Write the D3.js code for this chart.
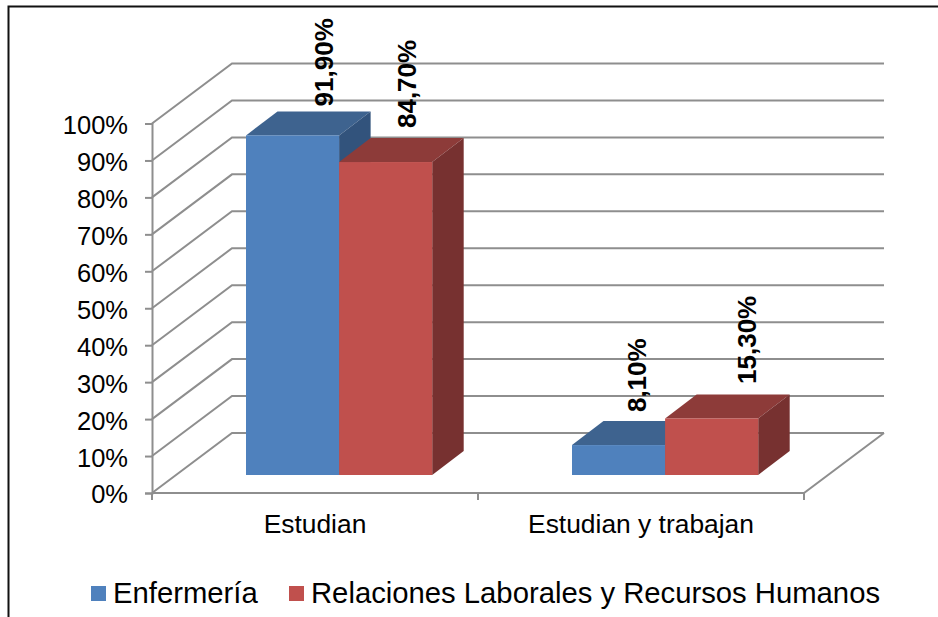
<!DOCTYPE html>
<html>
<head>
<meta charset="utf-8">
<script src="https://cdn.jsdelivr.net/npm/d3@7"></script>
<style>
html, body { margin: 0; padding: 0; background: #fff; }
svg { display: block; }
text { font-family: "Liberation Sans", Arial, sans-serif; fill: #000; }
</style>
</head>
<body>
<svg width="938" height="617"></svg>
<script>
var categories = ["Estudian", "Estudian y trabajan"];
var seriesNames = ["Enfermería", "Relaciones Laborales y Recursos Humanos"];
var enfermeria = [91.9, 8.1];
var relaciones = [84.7, 15.3];
var yTicks = [0, 10, 20, 30, 40, 50, 60, 70, 80, 90, 100];

var frontColors = ["#4f81bd", "#c0504d"],
    topColors = ["#3e638f", "#8d3b39"],
    sideColors = ["#32537c", "#773130"],
    gridColor = "#8e8e8e";

var svg = d3.select("svg");

// outer frame of the pasted picture: only left and top show
svg.append("path")
    .attr("d", "M8.5,617V6.5H938")
    .attr("fill", "none")
    .attr("stroke", "#111")
    .attr("stroke-width", 2);

var x0 = d3.scaleBand().domain(d3.range(categories.length)).range([152, 804]);
var y = d3.scaleLinear().domain([0, 100]).range([493, 123.5]);
// two bars inside a category band
var x1 = d3.scaleBand().domain([0, 1]).range([94, 280.2]);

// wall depth of the 3d box and depth of one bar
var wallX = 80, wallY = 60;
var barX = 31.5, barY = 24, barLift = 18;

var grid = svg.append("g").attr("fill", "none").attr("stroke", gridColor).attr("stroke-width", 2);

grid.selectAll("path.wall")
    .data(yTicks)
    .enter().append("path")
    .attr("class", "wall")
    .attr("d", function(d) {
        return d3.line()([
            [x0.range()[0], y(d)],
            [x0.range()[0] + wallX, y(d) - wallY],
            [x0.range()[1] + wallX, y(d) - wallY]
        ]);
    });

// floor
grid.append("path").attr("d", d3.line()([
    [x0.range()[0], y(0)],
    [x0.range()[1], y(0)],
    [x0.range()[1] + wallX, y(0) - wallY]
]));

// axes
var yAxis = d3.axisLeft(y).tickValues(yTicks).tickSize(7).tickPadding(17).tickFormat(function(d) { return d + "%"; });
var yG = svg.append("g").attr("transform", "translate(152,0)").call(yAxis);
yG.select(".domain").attr("stroke", gridColor).attr("stroke-width", 2);
yG.selectAll(".tick line").attr("stroke", gridColor).attr("stroke-width", 2);
yG.selectAll("text").attr("font-size", 25.5).attr("dy", "0.39em").style("font-family", '"Liberation Sans", Arial, sans-serif').style("fill", "#000");

svg.append("g")
    .selectAll("line")
    .data(x0.domain().concat(categories.length))
    .enter().append("line")
    .attr("x1", function(d) { return 152 + d * x0.step(); })
    .attr("x2", function(d) { return 152 + d * x0.step(); })
    .attr("y1", y(0))
    .attr("y2", y(0) + 7)
    .attr("stroke", gridColor)
    .attr("stroke-width", 2);

svg.append("g")
    .selectAll("text")
    .data(categories)
    .enter().append("text")
    .attr("x", function(d, i) { return x0(i) + x0.bandwidth() / 2; })
    .attr("y", 533)
    .attr("text-anchor", "middle")
    .attr("font-size", 26.4)
    .text(function(d) { return d; });

// bars, blue first so red sits on top of it
var series = [enfermeria, relaciones];
var bars = [];
series.forEach(function(values, s) {
    values.forEach(function(v, c) { bars.push({ s: s, c: c, v: v }); });
});
bars.sort(function(a, b) { return a.c - b.c || a.s - b.s; });

var bar = svg.append("g").selectAll("g").data(bars).enter().append("g");

function barBox(d) {
    var left = x0(d.c) + x1(d.s),
        right = left + x1.bandwidth(),
        base = y(0) - barLift,
        top = base - (y(0) - y(d.v));
    return { left: left, right: right, base: base, top: top };
}

bar.append("path")
    .attr("fill", function(d) { return topColors[d.s]; })
    .attr("d", function(d) {
        var b = barBox(d);
        return d3.line()([[b.left, b.top], [b.left + barX, b.top - barY], [b.right + barX, b.top - barY], [b.right, b.top]]) + "Z";
    });
bar.append("path")
    .attr("fill", function(d) { return sideColors[d.s]; })
    .attr("d", function(d) {
        var b = barBox(d);
        return d3.line()([[b.right, b.top], [b.right + barX, b.top - barY], [b.right + barX, b.base - barY], [b.right, b.base]]) + "Z";
    });
bar.append("rect")
    .attr("fill", function(d) { return frontColors[d.s]; })
    .attr("x", function(d) { return barBox(d).left; })
    .attr("y", function(d) { return barBox(d).top; })
    .attr("width", x1.bandwidth())
    .attr("height", function(d) { var b = barBox(d); return b.base - b.top; });

// rotated value labels, excel put them a bit off centre so each gets a nudge
var labelNudgeX = [[40, 30], [27, 44]];
var labelGap = [[29, 34], [33, 34.5]];

svg.append("g")
    .selectAll("text")
    .data(bars)
    .enter().append("text")
    .attr("transform", function(d) {
        var b = barBox(d);
        return "translate(" + (b.left + x1.bandwidth() / 2 + labelNudgeX[d.c][d.s]) + "," + (b.top - labelGap[d.c][d.s]) + ") rotate(-90)";
    })
    .attr("font-size", 26)
    .attr("font-weight", "bold")
    .text(function(d) { return d.v.toFixed(2).replace(".", ",") + "%"; });

// legend
var legendSwatchX = [91, 289], legendTextX = [113, 311];
var legend = svg.append("g").selectAll("g").data(seriesNames).enter().append("g");
legend.append("rect")
    .attr("x", function(d, i) { return legendSwatchX[i]; })
    .attr("y", 586)
    .attr("width", 15)
    .attr("height", 15)
    .attr("fill", function(d, i) { return frontColors[i]; });
legend.append("text")
    .attr("x", function(d, i) { return legendTextX[i]; })
    .attr("y", 603)
    .attr("font-size", 29.25)
    .text(function(d) { return d; });
</script>
</body>
</html>
